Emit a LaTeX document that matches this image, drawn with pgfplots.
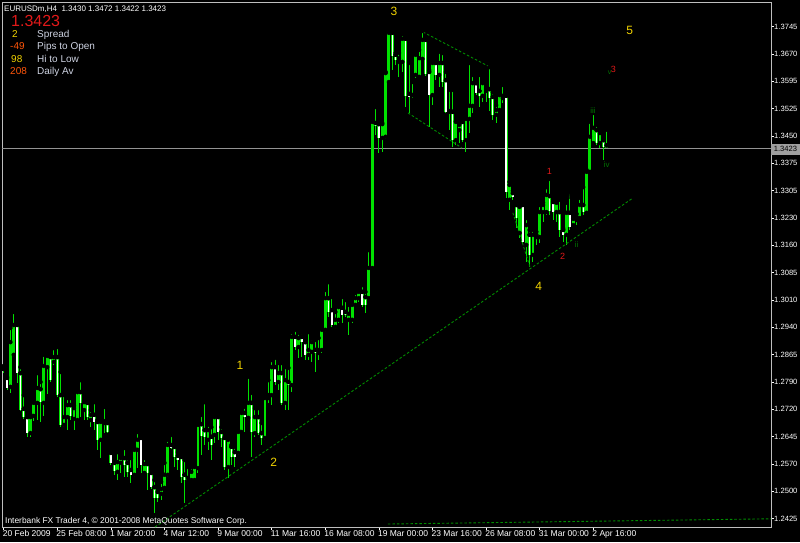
\documentclass[border=0pt]{standalone}
\usepackage{fontspec}
\setmainfont{Liberation Sans}
\usepackage{pgfplots}
\usepackage{pgfplotstable}
\pgfplotsset{compat=1.18}
\definecolor{cgreen}{RGB}{0,225,0}
\definecolor{dgreen}{RGB}{0,140,0}
\definecolor{rgreen}{RGB}{0,115,0}
\definecolor{wyellow}{RGB}{240,210,0}
\definecolor{wred}{RGB}{225,25,25}
\definecolor{orng}{RGB}{255,85,10}
\definecolor{lbl}{RGB}{205,210,225}
\definecolor{framec}{RGB}{190,190,190}

\pgfplotstableread{
i o h l c
0 1.2830 1.2838 1.2819 1.2825
1 1.2806 1.2809 1.2774 1.2779
2 1.2782 1.2940 1.2766 1.2902
3 1.2868 1.2983 1.2862 1.2948
4 1.2948 1.2954 1.2793 1.2819
5 1.2819 1.2835 1.2717 1.2720
6 1.2723 1.2760 1.2696 1.2701
7 1.2701 1.2704 1.2648 1.2658
8 1.2658 1.2707 1.2648 1.2701
9 1.2704 1.2747 1.2690 1.2739
10 1.2739 1.2819 1.2693 1.2779
11 1.2776 1.2795 1.2688 1.2741
12 1.2739 1.2868 1.2704 1.2838
13 1.2835 1.2870 1.2763 1.2865
14 1.2862 1.2868 1.2795 1.2800
15 1.2849 1.2886 1.2841 1.2862
16 1.2862 1.2889 1.2755 1.2760
17 1.2760 1.2822 1.2674 1.2680
18 1.2680 1.2760 1.2674 1.2701
19 1.2701 1.2752 1.2666 1.2733
20 1.2733 1.2752 1.2693 1.2704
21 1.2696 1.2731 1.2666 1.2725
22 1.2693 1.2779 1.2693 1.2768
23 1.2768 1.2800 1.2701 1.2739
24 1.2720 1.2744 1.2693 1.2741
25 1.2739 1.2747 1.2693 1.2701
26 1.2693 1.2720 1.2674 1.2707
27 1.2707 1.2741 1.2666 1.2688
28 1.2688 1.2693 1.2613 1.2640
29 1.2640 1.2693 1.2591 1.2688
30 1.2685 1.2728 1.2658 1.2690
31 1.2685 1.2690 1.2658 1.2661
32 1.2605 1.2613 1.2572 1.2578
33 1.2578 1.2586 1.2546 1.2556
34 1.2554 1.2607 1.2532 1.2580
35 1.2578 1.2599 1.2551 1.2591
36 1.2591 1.2618 1.2540 1.2572
37 1.2578 1.2591 1.2540 1.2554
38 1.2559 1.2591 1.2524 1.2546
39 1.2546 1.2618 1.2540 1.2613
40 1.2613 1.2661 1.2564 1.2640
41 1.2645 1.2650 1.2551 1.2572
42 1.2551 1.2591 1.2546 1.2575
43 1.2575 1.2578 1.2505 1.2551
44 1.2551 1.2559 1.2508 1.2513
45 1.2513 1.2532 1.2444 1.2484
46 1.2500 1.2511 1.2473 1.2484
47 1.2495 1.2527 1.2479 1.2508
48 1.2511 1.2578 1.2505 1.2546
49 1.2546 1.2640 1.2540 1.2626
50 1.2626 1.2653 1.2615 1.2618
51 1.2621 1.2626 1.2567 1.2594
52 1.2597 1.2607 1.2559 1.2586
53 1.2594 1.2599 1.2524 1.2540
54 1.2546 1.2586 1.2470 1.2532
55 1.2529 1.2567 1.2524 1.2538
56 1.2532 1.2567 1.2527 1.2554
57 1.2532 1.2570 1.2527 1.2567
58 1.2564 1.2685 1.2551 1.2680
59 1.2682 1.2707 1.2599 1.2650
60 1.2666 1.2741 1.2626 1.2648
61 1.2640 1.2680 1.2613 1.2666
62 1.2648 1.2674 1.2586 1.2626
63 1.2653 1.2707 1.2631 1.2701
64 1.2701 1.2707 1.2640 1.2661
65 1.2661 1.2674 1.2621 1.2645
66 1.2645 1.2648 1.2559 1.2567
67 1.2567 1.2645 1.2538 1.2640
68 1.2621 1.2626 1.2572 1.2594
69 1.2607 1.2621 1.2567 1.2594
70 1.2605 1.2666 1.2599 1.2661
71 1.2661 1.2715 1.2658 1.2712
72 1.2712 1.2728 1.2661 1.2701
73 1.2699 1.2809 1.2693 1.2739
74 1.2739 1.2766 1.2594 1.2661
75 1.2658 1.2725 1.2648 1.2701
76 1.2701 1.2725 1.2653 1.2658
77 1.2658 1.2685 1.2626 1.2645
78 1.2645 1.2755 1.2640 1.2752
79 1.2752 1.2800 1.2739 1.2760
80 1.2760 1.2854 1.2733 1.2835
81 1.2835 1.2860 1.2787 1.2795
82 1.2795 1.2846 1.2774 1.2819
83 1.2819 1.2846 1.2733 1.2739
84 1.2739 1.2835 1.2720 1.2800
85 1.2795 1.2833 1.2720 1.2787
86 1.2787 1.2929 1.2768 1.2916
87 1.2916 1.2935 1.2881 1.2889
88 1.2889 1.2927 1.2860 1.2913
89 1.2916 1.2927 1.2862 1.2902
90 1.2902 1.2905 1.2854 1.2868
91 1.2868 1.2929 1.2854 1.2881
92 1.2876 1.2913 1.2849 1.2902
93 1.2881 1.2908 1.2822 1.2873
94 1.2873 1.2913 1.2854 1.2881
95 1.2881 1.2940 1.2873 1.2935
96 1.2935 1.3042 1.2929 1.3020
97 1.3020 1.3063 1.2970 1.2983
98 1.2988 1.3023 1.2943 1.2948
99 1.2943 1.2983 1.2937 1.2962
100 1.2962 1.3002 1.2954 1.2996
101 1.2994 1.3023 1.2954 1.2975
102 1.2983 1.3015 1.2970 1.2975
103 1.2962 1.3002 1.2921 1.2978
104 1.2962 1.3007 1.2954 1.3002
105 1.3002 1.3034 1.2996 1.3020
106 1.3020 1.3047 1.3010 1.3037
107 1.3037 1.3055 1.2996 1.3002
108 1.3023 1.3037 1.2980 1.3002
109 1.3020 1.3149 1.3015 1.3101
110 1.3101 1.3498 1.3096 1.3493
111 1.3490 1.3533 1.3458 1.3482
112 1.3487 1.3490 1.3410 1.3450
113 1.3450 1.3490 1.3412 1.3487
114 1.3453 1.3627 1.3447 1.3624
115 1.3600 1.3740 1.3597 1.3732
116 1.3732 1.3737 1.3632 1.3670
117 1.3673 1.3678 1.3646 1.3659
118 1.3654 1.3678 1.3614 1.3664
119 1.3654 1.3729 1.3627 1.3716
120 1.3716 1.3721 1.3533 1.3563
121 1.3568 1.3651 1.3517 1.3560
122 1.3565 1.3600 1.3557 1.3560
123 1.3619 1.3678 1.3611 1.3673
124 1.3614 1.3686 1.3611 1.3664
125 1.3662 1.3737 1.3659 1.3713
126 1.3713 1.3718 1.3616 1.3622
127 1.3627 1.3632 1.3479 1.3565
128 1.3565 1.3654 1.3538 1.3651
129 1.3651 1.3654 1.3605 1.3619
130 1.3619 1.3681 1.3587 1.3651
131 1.3651 1.3678 1.3587 1.3600
132 1.3605 1.3627 1.3517 1.3520
133 1.3520 1.3579 1.3471 1.3522
134 1.3520 1.3579 1.3426 1.3444
135 1.3444 1.3495 1.3431 1.3493
136 1.3471 1.3493 1.3436 1.3485
137 1.3493 1.3495 1.3439 1.3444
138 1.3444 1.3503 1.3412 1.3501
139 1.3501 1.3651 1.3463 1.3536
140 1.3536 1.3619 1.3517 1.3597
141 1.3597 1.3600 1.3565 1.3571
142 1.3576 1.3619 1.3533 1.3563
143 1.3563 1.3600 1.3546 1.3597
144 1.3576 1.3584 1.3546 1.3581
145 1.3581 1.3640 1.3522 1.3557
146 1.3560 1.3573 1.3498 1.3512
147 1.3512 1.3538 1.3490 1.3525
148 1.3525 1.3573 1.3520 1.3565
149 1.3557 1.3592 1.3544 1.3563
150 1.3563 1.3565 1.3289 1.3305
151 1.3284 1.3332 1.3257 1.3324
152 1.3302 1.3308 1.3284 1.3292
153 1.3270 1.3276 1.3208 1.3235
154 1.3195 1.3270 1.3182 1.3265
155 1.3270 1.3276 1.3168 1.3171
156 1.3163 1.3235 1.3117 1.3216
157 1.3190 1.3203 1.3104 1.3136
158 1.3136 1.3203 1.3117 1.3190
159 1.3184 1.3198 1.3163 1.3190
160 1.3184 1.3270 1.3168 1.3251
161 1.3251 1.3276 1.3224 1.3270
162 1.3251 1.3318 1.3243 1.3297
163 1.3294 1.3340 1.3243 1.3254
164 1.3278 1.3284 1.3230 1.3251
165 1.3251 1.3284 1.3224 1.3276
166 1.3251 1.3284 1.3184 1.3203
167 1.3203 1.3208 1.3171 1.3190
168 1.3190 1.3276 1.3163 1.3249
169 1.3249 1.3292 1.3203 1.3211
170 1.3216 1.3243 1.3211 1.3233
171 1.3230 1.3246 1.3216 1.3238
172 1.3235 1.3289 1.3230 1.3270
173 1.3270 1.3318 1.3243 1.3251
174 1.3249 1.3364 1.3246 1.3359
175 1.3359 1.3493 1.3356 1.3453
176 1.3436 1.3517 1.3431 1.3477
177 1.3471 1.3485 1.3431 1.3436
178 1.3436 1.3471 1.3423 1.3463
179 1.3444 1.3450 1.3391 1.3426
180 1.3430 1.3472 1.3422 1.3423
}\bars

\begin{document}
\begin{tikzpicture}[x=1pt,y=1pt]
\fill[black] (0,0) rectangle (800,542);
\begin{axis}[
  at={(2pt,15pt)}, anchor=south west,
  width=769pt, height=525pt, scale only axis,
  xmin=-0.5, xmax=229.05, ymin=1.24060, ymax=1.38147,
  axis line style={draw=framec, line width=0.8pt},
  xtick={0,16,...,176},
  xticklabels={20 Feb 2009,25 Feb 08:00,1 Mar 20:00,4 Mar 12:00,9 Mar 00:00,11 Mar 16:00,16 Mar 08:00,19 Mar 00:00,23 Mar 16:00,26 Mar 08:00,31 Mar 00:00,2 Apr 16:00},
  xtick pos=bottom, xticklabel pos=bottom,
  ytick pos=right, yticklabel pos=right,
  tick align=outside, major tick length=3pt,
  tick style={draw=white, line width=0.6pt},
  xticklabel style={anchor=north west, xshift=-2pt, yshift=1pt, inner sep=1pt, font=\fontsize{8.5}{9}\selectfont, text=white},
  ytick={1.37485,1.36751,1.36018,1.35285,1.34551,1.33818,1.33084,1.32351,1.31618,1.30884,1.30151,1.29418,1.28684,1.27951,1.27217,1.26484,1.25751,1.25017,1.24284},
  yticklabels={1.3745,1.3670,1.3595,1.3525,1.3450,1.3375,1.3305,1.3230,1.3160,1.3085,1.3010,1.2940,1.2865,1.2790,1.2720,1.2645,1.2570,1.2500,1.2425},
  yticklabel style={anchor=west, xshift=-1pt, inner sep=1pt, font=\fontsize{7.6}{8}\selectfont, text=white},
  clip=true,
]
% current price line
\addplot[color=gray!85, line width=0.9pt, forget plot] coordinates {(-0.5,1.3423) (229.05,1.3423)};
% wicks
\addplot[only marks, mark=none, forget plot, error bars/.cd, y dir=minus, y explicit, error mark=none,
  error bar style={draw=cgreen, line width=1pt, solid}]
  table[x=i, y=h, y error minus expr=\thisrow{h}-\thisrow{l}] {\bars};
% bodies (all candles, green)
\addplot[only marks, mark=none, forget plot, error bars/.cd, y dir=minus, y explicit, error mark=none,
  error bar style={draw=cgreen, line width=2.9pt, solid}]
  table[x=i, y expr={max(\thisrow{o},\thisrow{c})}, y error minus expr={abs(\thisrow{c}-\thisrow{o})}] {\bars};
% white inside of falling candles (zero length for rising ones)
\addplot[only marks, mark=none, forget plot, error bars/.cd, y dir=minus, y explicit, error mark=none,
  error bar style={draw=white, line width=1.4pt, solid}]
  table[x=i, y=o, y error minus expr={max(\thisrow{o}-\thisrow{c},0)}] {\bars};
% trend lines
\addplot[dgreen, line width=0.9pt, dash pattern=on 2.5pt off 2pt, forget plot] coordinates {(45.17,1.2406) (187.86,1.3289)};
\addplot[dgreen, line width=0.9pt, dash pattern=on 2.5pt off 2pt, forget plot] coordinates {(125.2,1.3734) (145.2,1.3640)};
\addplot[dgreen, line width=0.9pt, dash pattern=on 2.5pt off 2pt, forget plot] coordinates {(120.7,1.3517) (136.8,1.3423)};
\addplot[dgreen, line width=0.9pt, dash pattern=on 2.5pt off 2pt, forget plot] coordinates {(152.0,1.3249) (157.1,1.3104)};
\addplot[dgreen, line width=0.9pt, dash pattern=on 2.5pt off 2pt, forget plot] coordinates {(114.7,1.2414) (229.05,1.2428)};
\end{axis}
% price label on the right
\node[fill=gray!75, text=black, inner sep=0pt, minimum width=29pt, minimum height=11pt, font=\fontsize{7.6}{8}\selectfont] at (785.5,393) {1.3423};
% info panel
\node[anchor=base west, inner sep=0pt, text=white, font=\fontsize{8}{9}\selectfont] at (4,530.5) {EURUSDm,H4\ \ 1.3430 1.3472 1.3422 1.3423};
\node[anchor=base west, inner sep=0pt, text=wred, font=\fontsize{16}{18}\selectfont] at (11,515.3) {1.3423};
\node[anchor=base west, inner sep=0pt, text=wyellow, font=\fontsize{10}{11}\selectfont] at (12,504.7) {2};
\node[anchor=base west, inner sep=0pt, text=lbl, font=\fontsize{10}{11}\selectfont] at (37,504.7) {Spread};
\node[anchor=base west, inner sep=0pt, text=orng, font=\fontsize{10}{11}\selectfont] at (10,492) {-49};
\node[anchor=base west, inner sep=0pt, text=lbl, font=\fontsize{10}{11}\selectfont] at (37,492) {Pips to Open};
\node[anchor=base west, inner sep=0pt, text=wyellow, font=\fontsize{10}{11}\selectfont] at (11,479.3) {98};
\node[anchor=base west, inner sep=0pt, text=lbl, font=\fontsize{10}{11}\selectfont] at (37,479.3) {Hi to Low};
\node[anchor=base west, inner sep=0pt, text=orng, font=\fontsize{10}{11}\selectfont] at (10,467) {208};
\node[anchor=base west, inner sep=0pt, text=lbl, font=\fontsize{10}{11}\selectfont] at (37,467) {Daily Av};
% copyright
\node[anchor=base west, inner sep=0pt, text=white, font=\fontsize{8.4}{9}\selectfont] at (5,19) {Interbank FX Trader 4, © 2001-2008 MetaQuotes Software Corp.};
% wave labels
\node[inner sep=0pt, text=wyellow, font=\fontsize{12}{13}\selectfont] at (394,531) {3};
\node[inner sep=0pt, text=wyellow, font=\fontsize{12}{13}\selectfont] at (629.7,511.5) {5};
\node[inner sep=0pt, text=wyellow, font=\fontsize{12}{13}\selectfont] at (240,176.7) {1};
\node[inner sep=0pt, text=wyellow, font=\fontsize{12}{13}\selectfont] at (273.7,80) {2};
\node[inner sep=0pt, text=wyellow, font=\fontsize{12}{13}\selectfont] at (538.7,255.3) {4};
\node[inner sep=0pt, text=wred, font=\fontsize{9}{10}\selectfont] at (549.3,370.3) {1};
\node[inner sep=0pt, text=wred, font=\fontsize{9}{10}\selectfont] at (562.7,285.3) {2};
\node[inner sep=0pt, text=wred, font=\fontsize{9}{10}\selectfont] at (613.3,472.7) {3};
\node[inner sep=0pt, text=rgreen, font=\fontsize{7}{8}\selectfont] at (609.5,469.5) {v};
\node[inner sep=0pt, text=rgreen, font=\fontsize{8}{9}\selectfont] at (593,431) {iii};
\node[inner sep=0pt, text=rgreen, font=\fontsize{8}{9}\selectfont] at (606.7,377) {iv};
\node[inner sep=0pt, text=rgreen, font=\fontsize{8}{9}\selectfont] at (576.7,297.7) {ii};
\node[inner sep=0pt, text=rgreen, font=\fontsize{7}{8}\selectfont] at (569.5,345) {i};
\pgfresetboundingbox
\path[use as bounding box] (0,0) rectangle (800,542);
\end{tikzpicture}
\end{document}
